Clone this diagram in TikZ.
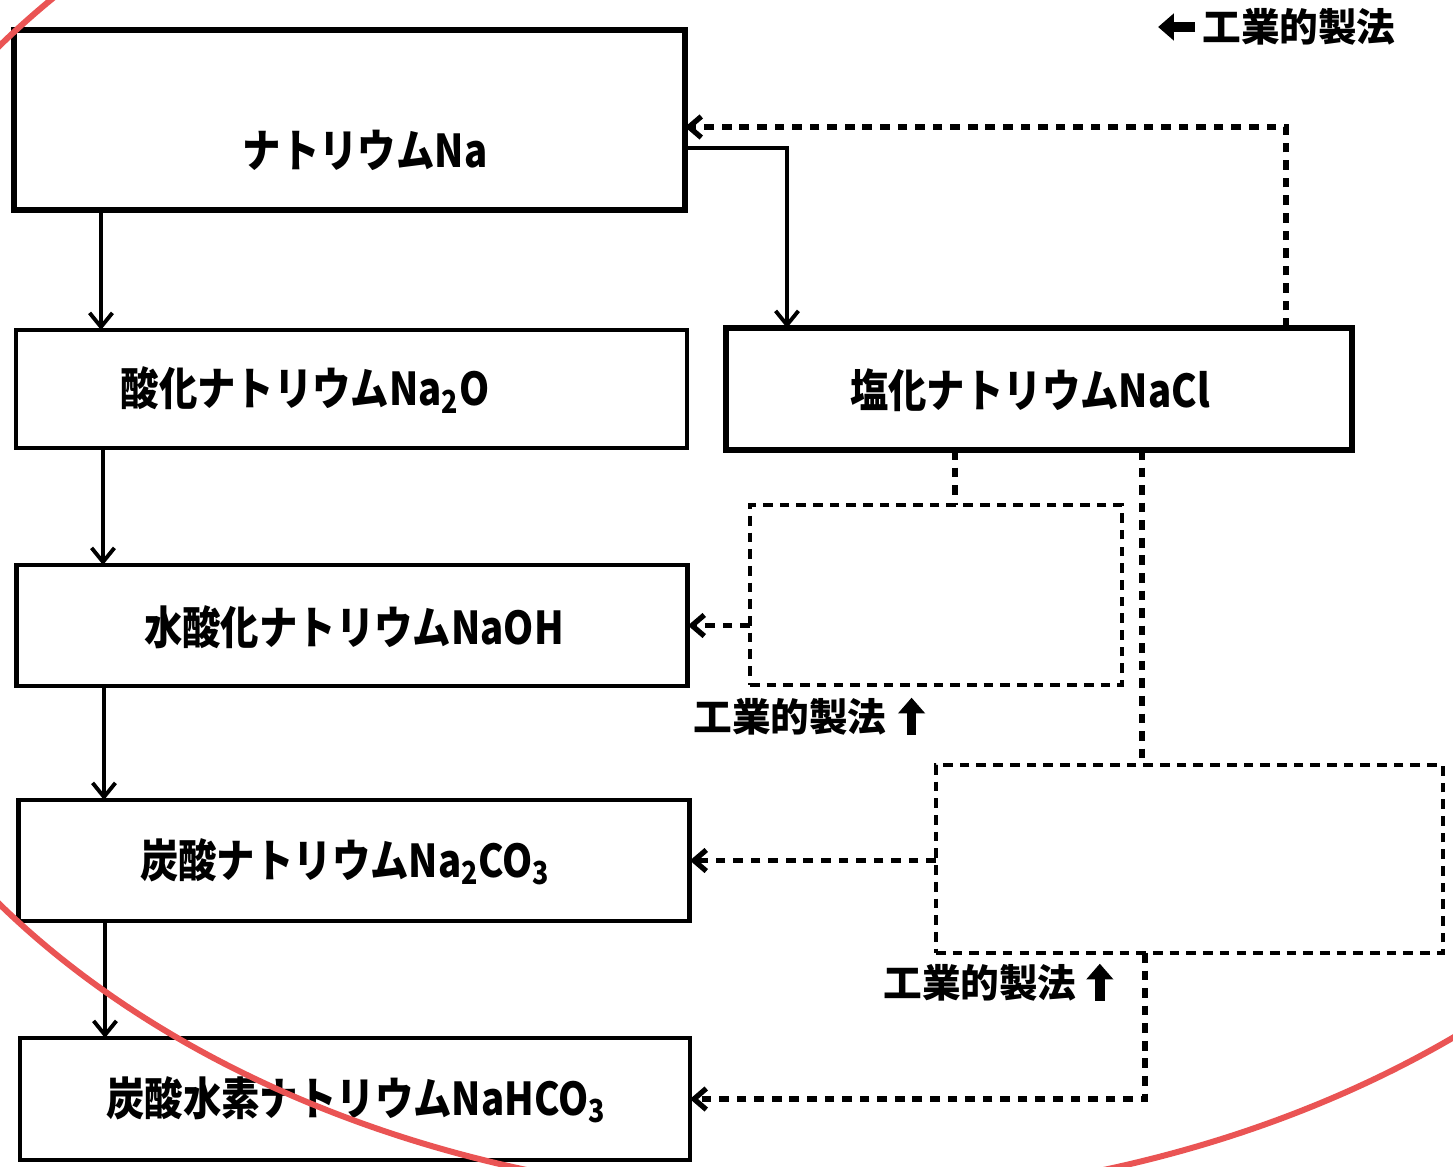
\documentclass[tikz,border=0pt]{standalone}
\usepackage{fontspec}
\usepackage{graphicx}
\newfontfamily\jp{Noto Sans CJK JP}
\usetikzlibrary{arrows.meta}
\definecolor{redline}{RGB}{234,84,84}
\newcommand\condtxt[1]{\scalebox{0.95}[1.12]{#1}}
\begin{document}
\begin{tikzpicture}[x=0.02cm,y=-0.02cm,
  box/.style={draw, rectangle, inner sep=0pt, outer sep=0pt},
  dbox/.style={draw, rectangle, inner sep=0pt, outer sep=0pt, line width=2pt, dash pattern=on 5.5pt off 4pt},
  txt/.style={font=\jp\bfseries\fontsize{23}{23}\selectfont, inner sep=0pt},
  lab/.style={font=\jp\bfseries\fontsize{22}{22}\selectfont, inner sep=0pt},
  arr/.style={line width=2.2pt, -{Straight Barb[length=8pt,width=13pt]}},
  darr/.style={line width=3pt, dash pattern=on 5.5pt off 4.5pt, -{Straight Barb[length=7pt,width=12pt]}},
  dline/.style={line width=3pt, dash pattern=on 5.5pt off 4.5pt},
  fat/.style={line width=5.5pt, -{Triangle[length=9pt,width=15pt]}}
]
\useasboundingbox[fill=white] (0,0) rectangle (1453,1166);

% boxes
\node[box, line width=3.4pt, minimum width=13.42cm, minimum height=3.6cm] (na) at (349.5,120) {};
\node[box, line width=1.8pt, minimum width=13.42cm, minimum height=2.36cm] (na2o) at (351.5,389) {};
\node[box, line width=2.8pt, minimum width=13.44cm, minimum height=2.42cm] (naoh) at (352,625.5) {};
\node[box, line width=2.8pt, minimum width=13.44cm, minimum height=2.42cm] (na2co3) at (354,860.5) {};
\node[box, line width=2.1pt, minimum width=13.4cm, minimum height=2.44cm] (nahco3) at (355,1099) {};
\node[box, line width=3pt, minimum width=12.52cm, minimum height=2.44cm] (nacl) at (1039,389) {};
\node[dbox, minimum width=7.44cm, minimum height=3.6cm] (dA) at (936,595) {};
\node[dbox, minimum width=10.14cm, minimum height=3.76cm] (dB) at (1189.5,859) {};

% box texts
\node[txt] (naT) at (365,150) {\condtxt{ナトリウムNa}};
\node[txt] (na2oT) at (305,390) {\condtxt{酸化ナトリウムNa\textsubscript{2}O}};
\node[txt] (naohT) at (354,627) {\condtxt{水酸化ナトリウムNaOH}};
\node[txt] (na2co3T) at (345,862) {\condtxt{炭酸ナトリウムNa\textsubscript{2}CO\textsubscript{3}}};
\node[txt] (nahco3T) at (356,1100) {\condtxt{炭酸水素ナトリウムNaHCO\textsubscript{3}}};
\node[txt] (naclT) at (1030,390) {\condtxt{塩化ナトリウムNaCl}};

% helper coordinates
\coordinate (xa) at (101,0);
\coordinate (xb) at (103,0);
\coordinate (xc) at (104,0);
\coordinate (xd) at (105,0);
\coordinate (xe) at (787,0);
\coordinate (ye) at (0,148);
\coordinate (xf) at (1286,0);
\coordinate (yf) at (0,127);
\coordinate (xg) at (955,0);
\coordinate (xh) at (1142,0);
\coordinate (xi) at (1145,0);

% solid connectors
\draw[arr] (na.south -| xa) -- (na2o.north -| xa);
\draw[arr] (na2o.south -| xb) -- (naoh.north -| xb);
\draw[arr] (naoh.south -| xc) -- (na2co3.north -| xc);
\draw[arr] (na2co3.south -| xd) -- (nahco3.north -| xd);
\draw[arr] (na.east |- ye) -| (nacl.north -| xe);

% dashed connectors
\draw[darr] (nacl.north -| xf) |- (na.east |- yf);
\draw[dline] (nacl.south -| xg) -- (dA.north -| xg);
\draw[darr] (dA.west |- naoh.east) -- (naoh.east);
\draw[dline] (nacl.south -| xh) -- (dB.north -| xh);
\draw[darr] (dB.west |- na2co3.east) -- (na2co3.east);
\draw[darr] (dB.south -| xi) |- (nahco3.east);

% labels
\node[lab] (l1) at (1299,27) {工業的製法};
\draw[fat] ([xshift=-4pt]l1.west) -- ([xshift=-25pt]l1.west);
\node[lab] (l2) at (790,717) {工業的製法};
\draw[fat] ([xshift=14pt,yshift=-10pt]l2.east) -- ([xshift=14pt,yshift=11pt]l2.east);
\node[lab] (l3) at (980,983) {工業的製法};
\draw[fat] ([xshift=13pt,yshift=-10pt]l3.east) -- ([xshift=13pt,yshift=11pt]l3.east);

% red ellipse
\begin{scope}
\clip (0,0) rectangle (1453,1166);
\draw[redline, line width=3.4pt] (815,475) ellipse [x radius=20.24cm, y radius=14.5cm];
\end{scope}
\end{tikzpicture}
\end{document}
